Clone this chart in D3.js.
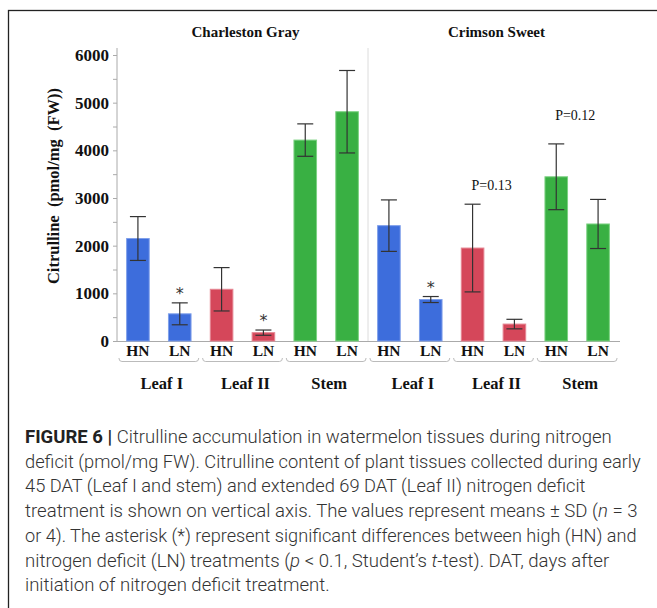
<!DOCTYPE html>
<html>
<head>
<meta charset="utf-8">
<script src="https://cdn.jsdelivr.net/npm/d3@7"></script>
<style>
  html, body { margin: 0; padding: 0; background: #fff; }
  svg { display: block; }
</style>
</head>
<body>
<script>
// ---------- data ----------
const varieties = ["Charleston Gray", "Crimson Sweet"];
const tissues = ["Leaf I", "Leaf II", "Stem"];
const treatments = ["HN", "LN"];
const means = [2150, 570, 1085, 175, 4215, 4810, 2420, 870, 1950, 355, 3445, 2455];
const sds   = [460, 230, 455, 55, 340, 865, 540, 63, 920, 100, 690, 515];
const yTicks = [0, 1000, 2000, 3000, 4000, 5000, 6000];
const asteriskBars = [1, 3, 7];
const pLabels = [{ bar: 8, text: "P=0.13" }, { bar: 10, text: "P=0.12" }];
const yTitle = "Citrulline  (pmol/mg  (FW))";
const tissueColors = { "Leaf I": "#3d6ddc", "Leaf II": "#d5475a", "Stem": "#39b043" };
const tissueStroke = { "Leaf I": "#7f9fea", "Leaf II": "#e58592", "Stem": "#7cd282" };

const captionLines = [
  [{ t: "FIGURE 6 | ", b: true }, { t: "Citrulline accumulation in watermelon tissues during nitrogen" }],
  [{ t: "deficit (pmol/mg FW). Citrulline content of plant tissues collected during early" }],
  [{ t: "45 DAT (Leaf I and stem) and extended 69 DAT (Leaf II) nitrogen deficit" }],
  [{ t: "treatment is shown on vertical axis. The values represent means \u00B1 SD (" }, { t: "n", i: true }, { t: " = 3" }],
  [{ t: "or 4). The asterisk (*) represent significant differences between high (HN) and" }],
  [{ t: "nitrogen deficit (LN) treatments (" }, { t: "p", i: true }, { t: " < 0.1, Student\u2019s " }, { t: "t", i: true }, { t: "-test). DAT, days after" }],
  [{ t: "initiation of nitrogen deficit treatment." }]
];
const captionWidths = [587, 616, 561, 613, 612, 585, 305];

// build bar records
const bars = [];
varieties.forEach((v, vi) => tissues.forEach((t, ti) => treatments.forEach((tr, ri) => {
  const idx = bars.length;
  bars.push({ idx, variety: v, tissue: t, treatment: tr, mean: means[idx], sd: sds[idx] });
})));

// ---------- svg ----------
const W = 657, H = 608;
const svg = d3.select("body").append("svg").attr("width", W).attr("height", H);

// frame (top + left visible)
svg.append("rect").attr("x", 8.5).attr("y", 10.5).attr("width", W + 20).attr("height", H + 20)
  .attr("fill", "none").attr("stroke", "#222").attr("stroke-width", 1.3);

const x = d3.scaleBand().domain(bars.map(d => d.idx)).range([117, 619])
  .paddingInner(0.46).paddingOuter(0.23);
const y = d3.scaleLinear().domain([0, 6000]).range([341, 55]);

const serif = "'Liberation Serif', 'Times New Roman', serif";

// separator between varieties
const sepX = (x(5) + x.bandwidth() + x(6)) / 2;
svg.append("line").attr("x1", sepX).attr("x2", sepX).attr("y1", 48).attr("y2", 341)
  .attr("stroke", "#dcdcdc").attr("stroke-width", 1);

// y axis
const yAxis = d3.axisLeft(y).tickValues(d3.range(0, 6001, 500)).tickSize(4)
  .tickFormat(d => yTicks.includes(d) ? d : "");
const gy = svg.append("g").attr("transform", "translate(117,0)").call(yAxis);
gy.select(".domain").remove();
gy.selectAll(".tick line").attr("stroke", "#aaa");
gy.selectAll(".tick text").attr("font-family", serif).attr("font-weight", "bold")
  .attr("font-size", 17).attr("fill", "#111").attr("x", -8);
svg.append("line").attr("x1", 117).attr("x2", 117).attr("y1", 48).attr("y2", 341)
  .attr("stroke", "#aaa");
// x axis baseline
svg.append("line").attr("x1", 117).attr("x2", 620).attr("y1", 341.5).attr("y2", 341.5)
  .attr("stroke", "#aaa");

// y title
svg.append("text").attr("transform", "translate(59,186) rotate(-90)")
  .attr("text-anchor", "middle").attr("font-family", serif).attr("font-weight", "bold")
  .attr("font-size", 16.5).attr("fill", "#111").attr("xml:space", "preserve").text(yTitle);

// bars
svg.append("g").selectAll("rect").data(bars).join("rect")
  .attr("x", d => x(d.idx)).attr("width", x.bandwidth())
  .attr("y", d => y(d.mean)).attr("height", d => y(0) - y(d.mean))
  .attr("fill", d => tissueColors[d.tissue]).attr("stroke", d => tissueStroke[d.tissue])
  .attr("stroke-width", 1);

// error bars
const eb = svg.append("g").attr("stroke", "#333").attr("stroke-width", 1.2);
bars.forEach(d => {
  const cx = x(d.idx) + x.bandwidth() / 2;
  const top = y(d.mean + d.sd), bot = y(d.mean - d.sd);
  eb.append("line").attr("x1", cx).attr("x2", cx).attr("y1", top).attr("y2", bot);
  eb.append("line").attr("x1", cx - 8).attr("x2", cx + 8).attr("y1", top).attr("y2", top);
  eb.append("line").attr("x1", cx - 8).attr("x2", cx + 8).attr("y1", bot).attr("y2", bot);
});

// asterisks
asteriskBars.forEach(i => {
  const d = bars[i];
  svg.append("text").attr("x", x(i) + x.bandwidth() / 2).attr("y", y(d.mean + d.sd) - 4)
    .attr("text-anchor", "middle").attr("font-family", "'DejaVu Sans', sans-serif")
    .attr("font-size", 16).attr("fill", "#333").text("*");
});
// p labels
pLabels.forEach((p, k) => {
  const d = bars[p.bar];
  svg.append("text").attr("x", x(p.bar) + x.bandwidth() / 2 + 19).attr("y", y(d.mean + d.sd) - (k === 0 ? 14 : 24))
    .attr("text-anchor", "middle").attr("font-family", serif)
    .attr("font-size", 14).attr("fill", "#111").text(p.text);
});

// treatment labels
svg.append("g").selectAll("text").data(bars).join("text")
  .attr("x", d => x(d.idx) + x.bandwidth() / 2).attr("y", 356)
  .attr("text-anchor", "middle").attr("font-family", serif).attr("font-weight", "bold")
  .attr("font-size", 15.5).attr("fill", "#111").text(d => d.treatment);

// group brackets + labels
varieties.forEach((v, vi) => tissues.forEach((t, ti) => {
  const i0 = vi * 6 + ti * 2, i1 = i0 + 1;
  const x0 = x(i0) - x.step() * 0.22 + 1.5, x1 = x(i1) + x.bandwidth() + x.step() * 0.22 - 1.5;
  svg.append("path").attr("d", `M${x0},358 Q${x0},361.5 ${x0 + 3},361.5 L${x1 - 3},361.5 Q${x1},361.5 ${x1},358`)
    .attr("fill", "none").attr("stroke", "#bbb").attr("stroke-width", 1);
  svg.append("text").attr("x", (x0 + x1) / 2 + 3).attr("y", 389)
    .attr("text-anchor", "middle").attr("font-family", serif).attr("font-weight", "bold")
    .attr("font-size", 16.5).attr("fill", "#111").text(t);
}));

// variety titles
varieties.forEach((v, vi) => {
  const cx = (x(vi * 6) + x(vi * 6 + 5) + x.bandwidth()) / 2 + 3;
  svg.append("text").attr("x", cx).attr("y", 37).attr("text-anchor", "middle")
    .attr("font-family", serif).attr("font-weight", "bold").attr("font-size", 15)
    .attr("fill", "#111").text(v);
});

// caption
captionLines.forEach((line, li) => {
  const by = 443 + li * 24.7;
  const tx = svg.append("text").attr("x", 0).attr("y", 0)
    .attr("font-family", "Roboto, 'Liberation Sans', sans-serif").attr("font-weight", 300)
    .attr("font-size", 18.5).attr("fill", "#333")
    .attr("xml:space", "preserve");
  line.forEach(s => {
    const ts = tx.append("tspan").text(s.t);
    if (s.b) ts.attr("font-weight", "bold").attr("fill", "#222");
    if (s.i) ts.attr("font-style", "italic");
  });
  const w = tx.node().getComputedTextLength();
  const sx = captionWidths[li] / w;
  tx.attr("transform", `translate(25,${by}) scale(${sx},1)`);
});
</script>
</body>
</html>
